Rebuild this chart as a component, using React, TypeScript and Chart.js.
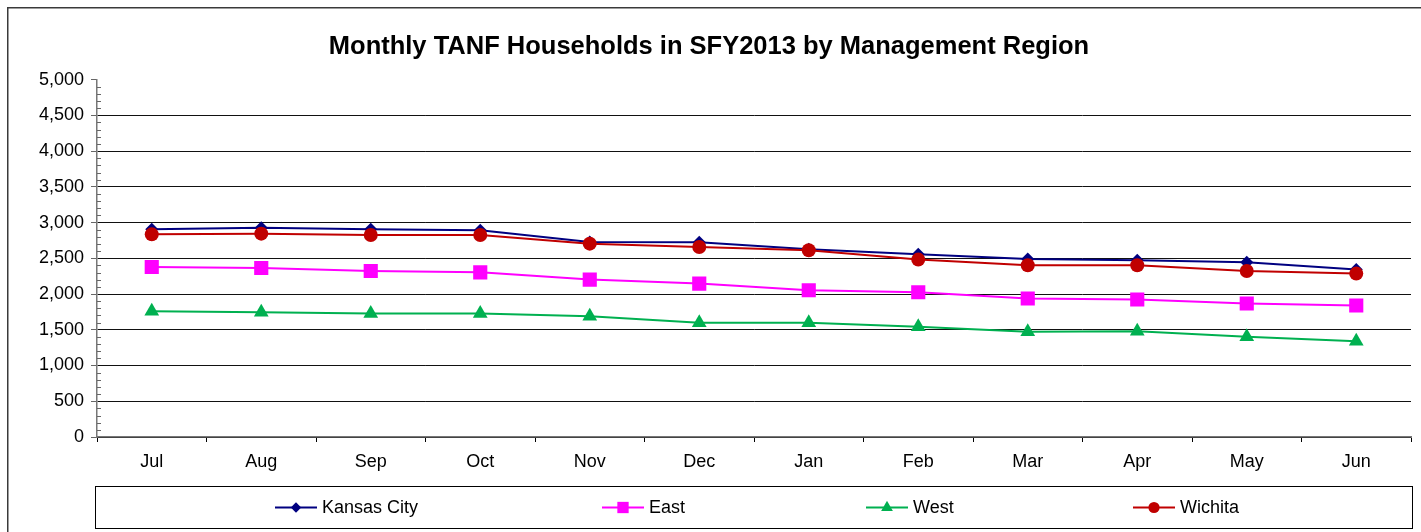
import React, { useEffect, useRef } from "react";
import { Chart, registerables } from "chart.js";

Chart.register(...registerables);

const months = ["Jul", "Aug", "Sep", "Oct", "Nov", "Dec", "Jan", "Feb", "Mar", "Apr", "May", "Jun"];
const kansasCity = [2905, 2928, 2905, 2891, 2728, 2723, 2626, 2556, 2490, 2472, 2444, 2342];
const east = [2379, 2365, 2323, 2304, 2202, 2146, 2053, 2025, 1937, 1923, 1867, 1839];
const west = [1760, 1746, 1728, 1728, 1690, 1597, 1597, 1541, 1471, 1480, 1401, 1341];
const wichita = [2835, 2845, 2826, 2826, 2705, 2658, 2612, 2482, 2402, 2402, 2323, 2286];
const seriesNames = ["Kansas City", "East", "West", "Wichita"];
const yMin = 0;
const yMax = 5000;
const yStep = 500;
const yMinorStep = 100;
const titleText = "Monthly TANF Households in SFY2013 by Management Region";

const FONT = "'Liberation Sans', Arial, sans-serif";

function drawMarker(ctx: CanvasRenderingContext2D, style: string, x: number, y: number, r: number, color: string) {
  ctx.save();
  ctx.fillStyle = color;
  ctx.beginPath();
  if (style === "rectRot") {
    ctx.moveTo(x, y - r);
    ctx.lineTo(x + r, y);
    ctx.lineTo(x, y + r);
    ctx.lineTo(x - r, y);
    ctx.closePath();
  } else if (style === "rect") {
    const s = r * Math.SQRT1_2;
    ctx.rect(x - s, y - s, 2 * s, 2 * s);
  } else if (style === "triangle") {
    ctx.moveTo(x, y - r);
    ctx.lineTo(x + r * Math.sin((2 * Math.PI) / 3), y - r * Math.cos((2 * Math.PI) / 3));
    ctx.lineTo(x + r * Math.sin((4 * Math.PI) / 3), y - r * Math.cos((4 * Math.PI) / 3));
    ctx.closePath();
  } else {
    ctx.arc(x, y, r, 0, Math.PI * 2);
  }
  ctx.fill();
  ctx.restore();
}

const framePlugin = {
  id: "frame",
  beforeDraw(chart: any) {
    const ctx = chart.ctx as CanvasRenderingContext2D;
    ctx.save();
    ctx.fillStyle = "#ffffff";
    ctx.fillRect(0, 0, chart.width, chart.height);
    ctx.strokeStyle = "#3a3a3a";
    ctx.lineWidth = 1.5;
    ctx.beginPath();
    ctx.moveTo(0.75, chart.height);
    ctx.lineTo(0.75, 0.75);
    ctx.lineTo(chart.width, 0.75);
    ctx.stroke();
    ctx.restore();
  },
  afterDraw(chart: any) {
    const ctx = chart.ctx as CanvasRenderingContext2D;
    const ys = chart.scales.y;
    const ax = chart.chartArea.left;
    // minor ticks
    ctx.save();
    ctx.strokeStyle = "#666";
    ctx.lineWidth = 1;
    ctx.beginPath();
    for (let v = yMin; v <= yMax; v += yMinorStep) {
      if (v % yStep === 0) continue;
      const py = Math.round(ys.getPixelForValue(v)) + 0.5;
      ctx.moveTo(ax, py);
      ctx.lineTo(ax + 4, py);
    }
    ctx.stroke();
    ctx.restore();

    // legend
    const boxL = 88.5, boxT = 479.5, boxW = 1317, boxH = 42;
    ctx.save();
    ctx.strokeStyle = "#000";
    ctx.lineWidth = 1;
    ctx.strokeRect(boxL, boxT, boxW, boxH);
    const starts = [268, 595, 859, 1126];
    const cy = boxT + boxH / 2;
    chart.data.datasets.forEach((ds: any, i: number) => {
      const x0 = starts[i];
      ctx.strokeStyle = ds.borderColor;
      ctx.lineWidth = 2;
      ctx.beginPath();
      ctx.moveTo(x0, cy);
      ctx.lineTo(x0 + 42, cy);
      ctx.stroke();
      drawMarker(ctx, ds.pointStyle, x0 + 21, cy, ds.pointRadius * 0.8, ds.pointBackgroundColor);
      ctx.fillStyle = "#000";
      ctx.font = `18px ${FONT}`;
      ctx.textBaseline = "middle";
      ctx.textAlign = "left";
      ctx.fillText(ds.label, x0 + 47, cy + 1);
    });
    ctx.restore();
  },
};

export default function App() {
  const ref = useRef<HTMLCanvasElement | null>(null);
  useEffect(() => {
    if (!ref.current) return;
    const mk = (label: string, data: number[], color: string, style: string, r: number, order: number) => ({
      label,
      data,
      borderColor: color,
      backgroundColor: color,
      pointBackgroundColor: color,
      pointBorderColor: color,
      pointBorderWidth: 0,
      pointStyle: style,
      pointRadius: r,
      borderWidth: 2,
      tension: 0,
      order,
    });
    const chart = new Chart(ref.current, {
      type: "line",
      data: {
        labels: months,
        datasets: [
          mk(seriesNames[0], kansasCity, "#000080", "rectRot", 6.5, 4),
          mk(seriesNames[1], east, "#FF00FF", "rect", 10, 3),
          mk(seriesNames[2], west, "#00B050", "triangle", 8.5, 2),
          mk(seriesNames[3], wichita, "#C00000", "circle", 7, 1),
        ],
      },
      options: {
        animation: false,
        responsive: true,
        maintainAspectRatio: false,
        layout: { padding: { top: 0, left: 0, right: 10, bottom: 60 } },
        plugins: {
          legend: { display: false },
          tooltip: { enabled: false },
          title: {
            display: true,
            text: titleText,
            color: "#000",
            font: { family: FONT, size: 25.5, weight: "bold" },
            padding: { top: 25, bottom: 17 },
          },
        },
        scales: {
          x: {
            offset: true,
            grid: {
              offset: true,
              drawOnChartArea: false,
              drawTicks: true,
              tickLength: 5,
              tickColor: "#000",
            },
            border: { color: "#777", width: 1.5 },
            ticks: {
              color: "#000",
              font: { family: FONT, size: 18 },
              padding: 9,
              maxRotation: 0,
              autoSkip: false,
            },
            afterFit: (s: any) => {
              s.height = 35;
            },
          },
          y: {
            min: yMin,
            max: yMax,
            grid: {
              color: (c: any) => (c.tick && c.tick.value === yMax ? "rgba(0,0,0,0)" : "#111"),
              lineWidth: 1,
              drawTicks: true,
              tickLength: 6,
              tickColor: "#666",
            },
            border: { color: "#777", width: 1.5 },
            ticks: {
              stepSize: yStep,
              color: "#000",
              font: { family: FONT, size: 18 },
              padding: 7,
              callback: (v: any) => Number(v).toLocaleString("en-US"),
            },
            afterFit: (s: any) => {
              s.width = 90;
            },
          },
        },
      },
      plugins: [framePlugin],
    } as any);
    return () => chart.destroy();
  }, []);
  return (
    <div style={{ position: "absolute", left: 7, top: 7, width: 1414, height: 525 }}>
      <canvas ref={ref} />
    </div>
  );
}
